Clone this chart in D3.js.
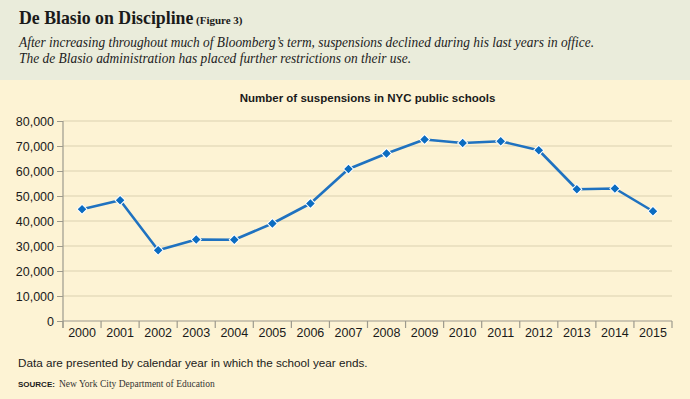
<!DOCTYPE html>
<html>
<head>
<meta charset="utf-8">
<script src="https://cdn.jsdelivr.net/npm/d3@7"></script>
<style>
  body { margin: 0; background: #fdf3d4; }
  svg { display: block; }
</style>
</head>
<body>
<script>
// data
const years = ["2000","2001","2002","2003","2004","2005","2006","2007","2008","2009","2010","2011","2012","2013","2014","2015"]
const suspensions = [44700, 48300, 28300, 32600, 32500, 39000, 47000, 60800, 67000, 72600, 71200, 71900, 68300, 52700, 53000, 43900]
const yTicks = [0, 10000, 20000, 30000, 40000, 50000, 60000, 70000, 80000]

const width = 690, height = 399
const margin = { top: 121, right: 18, bottom: 78, left: 63 }

const svg = d3.select("body")
  .append("svg")
  .attr("width", width)
  .attr("height", height)

// backgrounds
svg.append("rect").attr("width", width).attr("height", height).attr("fill", "#fdf3d4")
svg.append("rect").attr("width", width).attr("height", 80).attr("fill", "#eaecdb")

// header
svg.append("text")
  .attr("x", 19).attr("y", 23.5)
  .attr("font-family", "Liberation Serif, serif")
  .attr("font-size", 17.8).attr("font-weight", "bold")
  .attr("fill", "#1a1a1a")
  .text("De Blasio on Discipline")
svg.append("text")
  .attr("x", 196).attr("y", 23.5)
  .attr("font-family", "Liberation Serif, serif")
  .attr("font-size", 11).attr("font-weight", "bold")
  .attr("fill", "#1a1a1a")
  .text("(Figure 3)")

const subtitle = [
  "After increasing throughout much of Bloomberg\u2019s term, suspensions declined during his last years in office.",
  "The de Blasio administration has placed further restrictions on their use."
]
const subLengths = [575, 392]
svg.selectAll(".subtitle")
  .data(subtitle)
  .enter().append("text")
  .attr("class", "subtitle")
  .attr("x", 19)
  .attr("y", (d, i) => 46.5 + i * 16.5)
  .attr("font-family", "Liberation Serif, serif")
  .attr("font-style", "italic")
  .attr("font-size", 14.5)
  .attr("fill", "#222")
  .attr("textLength", (d, i) => subLengths[i])
  .attr("lengthAdjust", "spacingAndGlyphs")
  .text(d => d)

// scales
const x = d3.scaleBand()
  .domain(years)
  .range([margin.left, width - margin.right])
  .padding(0)

const y = d3.scaleLinear()
  .domain([0, 80000])
  .range([height - margin.bottom, margin.top])

const sans = "Liberation Sans, Arial, sans-serif"

// chart title
svg.append("text")
  .attr("x", (margin.left + width - margin.right) / 2)
  .attr("y", 102)
  .attr("text-anchor", "middle")
  .attr("font-family", sans)
  .attr("font-weight", "bold")
  .attr("font-size", 11.5)
  .attr("fill", "#1a1a1a")
  .text("Number of suspensions in NYC public schools")

// gridlines
svg.append("g")
  .selectAll("line")
  .data(yTicks.filter(d => d > 0))
  .enter().append("line")
  .attr("x1", margin.left)
  .attr("x2", width - margin.right)
  .attr("y1", d => y(d))
  .attr("y2", d => y(d))
  .attr("stroke", "#dcd2b0")
  .attr("stroke-width", 1.2)

// y axis
const yAxis = svg.append("g")
  .attr("transform", `translate(${margin.left},0)`)
  .call(d3.axisLeft(y).tickValues(yTicks).tickFormat(d3.format(",")).tickSize(6).tickPadding(3))
yAxis.select(".domain").remove()
yAxis.selectAll("line").attr("stroke", "#9d9a8d")
yAxis.attr("font-family", sans).attr("font-size", 12.5)
yAxis.selectAll("text").attr("fill", "#1a1a1a")

svg.append("line")
  .attr("x1", margin.left).attr("x2", margin.left)
  .attr("y1", y(80000)).attr("y2", y(0) + 7)
  .attr("stroke", "#9d9a8d").attr("stroke-width", 1.2)

// x axis
svg.append("line")
  .attr("x1", margin.left).attr("x2", width - margin.right)
  .attr("y1", y(0)).attr("y2", y(0))
  .attr("stroke", "#9d9a8d").attr("stroke-width", 1.2)

const bounds = years.map(d => x(d)).concat([x(years[years.length - 1]) + x.bandwidth()])
svg.append("g")
  .selectAll("line")
  .data(bounds)
  .enter().append("line")
  .attr("x1", d => d).attr("x2", d => d)
  .attr("y1", y(0)).attr("y2", y(0) + 7)
  .attr("stroke", "#9d9a8d").attr("stroke-width", 1.2)

svg.append("g")
  .selectAll("text")
  .data(years)
  .enter().append("text")
  .attr("x", d => x(d) + x.bandwidth() / 2)
  .attr("y", y(0) + 16)
  .attr("text-anchor", "middle")
  .attr("font-family", sans)
  .attr("font-size", 12.5)
  .attr("fill", "#1a1a1a")
  .text(d => d)

// line + markers
const points = years.map((d, i) => ({ year: d, value: suspensions[i] }))
const line = d3.line()
  .x(d => x(d.year) + x.bandwidth() / 2)
  .y(d => y(d.value))

svg.append("path")
  .datum(points)
  .attr("d", line)
  .attr("fill", "none")
  .attr("stroke", "#1f72c0")
  .attr("stroke-width", 2.6)
  .attr("stroke-linejoin", "round")

svg.append("g")
  .selectAll("path")
  .data(points)
  .enter().append("path")
  .attr("d", d3.symbol().type(d3.symbolSquare).size(50))
  .attr("transform", d => `translate(${x(d.year) + x.bandwidth() / 2},${y(d.value)}) rotate(45)`)
  .attr("fill", "#0b6cc1")
  .attr("stroke", "#ffffff")
  .attr("stroke-width", 1)

// footnotes
svg.append("text")
  .attr("x", 18).attr("y", 367)
  .attr("font-family", sans)
  .attr("font-size", 11.7)
  .attr("fill", "#1a1a1a")
  .text("Data are presented by calendar year in which the school year ends.")

svg.append("text")
  .attr("x", 18).attr("y", 386.5)
  .attr("font-family", sans)
  .attr("font-weight", "bold")
  .attr("font-size", 8)
  .attr("fill", "#1a1a1a")
  .text("SOURCE:")
svg.append("text")
  .attr("x", 59).attr("y", 386.5)
  .attr("font-family", "Liberation Serif, serif")
  .attr("font-size", 9.5)
  .attr("fill", "#333")
  .text("New York City Department of Education")
</script>
</body>
</html>
